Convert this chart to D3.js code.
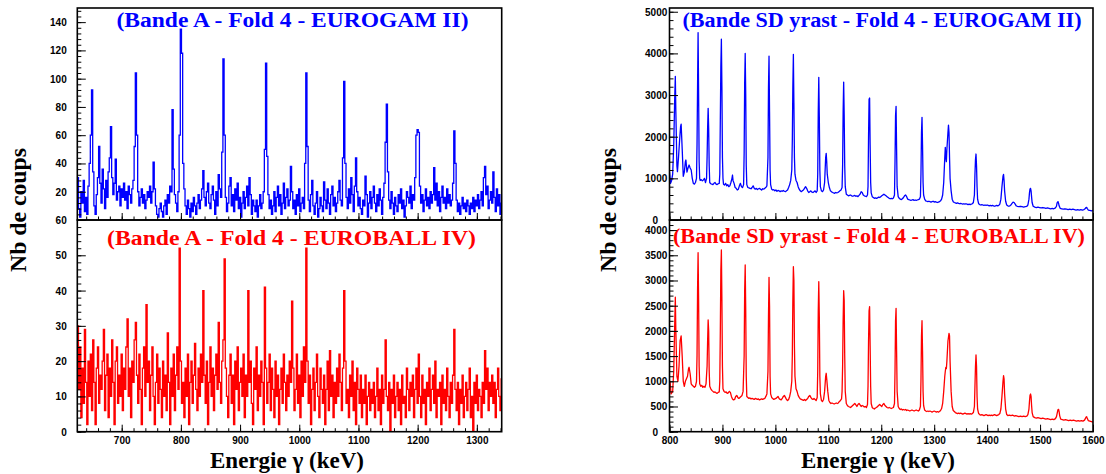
<!DOCTYPE html>
<html><head><meta charset="utf-8">
<script src="https://cdn.jsdelivr.net/npm/d3@7/dist/d3.min.js"></script>
<style>
html,body{margin:0;padding:0;background:#fff;}
svg{display:block;}
.tick text{font-family:"Liberation Sans",Arial,sans-serif;font-weight:bold;font-size:10px;fill:#000;}
</style></head>
<body><svg id="c" width="1106" height="474"></svg>
<script>
// ---------- DATA ----------
// Left panels: 2 keV bins starting at 625 keV
const binStart = 625, binWidth = 2, leftXMax = 1342;
const bandeA_EG2 = [
30,8,2,20,12,28,6,16,4,24,
40,60,92,34,10,4,18,30,52,26,
12,36,22,8,28,16,34,44,66,30,
18,26,43,14,20,24,10,22,16,26,
14,20,8,24,18,12,22,28,52,104,
60,20,10,16,22,12,18,8,14,20,
16,24,12,20,41,22,10,4,2,8,
12,6,2,10,14,4,18,12,24,20,
78,36,18,12,6,20,60,135,118,40,
22,10,4,14,8,2,12,6,16,10,
4,12,18,8,14,22,35,16,10,20,
26,12,8,18,24,14,4,20,10,32,
22,16,48,114,60,16,6,12,24,30,
10,18,6,22,14,26,8,16,2,12,
20,8,16,24,10,30,18,4,14,10,
6,14,2,10,18,8,12,20,50,111,
45,18,8,14,4,10,20,6,16,24,
10,18,4,12,26,8,16,22,10,14,
38,20,8,14,4,18,10,22,6,12,
16,8,40,104,52,14,6,18,28,10,
4,12,20,2,8,16,10,6,27,14,
8,22,12,4,18,24,10,16,6,12,
20,28,14,10,44,98,40,16,8,22,
12,30,18,6,24,44,20,10,16,8,
4,14,10,31,18,2,12,20,8,16,
24,12,6,18,10,22,14,4,16,26,
55,82,34,14,8,20,12,4,16,10,
6,18,12,22,8,14,2,10,20,16,
12,24,8,18,14,30,60,64,62,24,
12,18,6,14,22,10,16,8,20,12,
18,37,14,26,10,20,6,16,24,12,
16,8,22,12,18,10,14,26,63,40,
14,6,12,4,10,16,8,12,6,14,
10,4,12,8,16,6,14,10,18,8,
14,20,10,30,38,18,24,8,14,20,
12,34,16,6,22,10,18,4,12];
const bandeA_EB4 = [
30,12,24,4,18,8,29,14,2,20,
10,22,6,26,14,2,18,24,8,16,
12,20,29,6,16,22,4,18,10,26,
14,2,20,24,8,16,10,22,6,18,
12,24,32,10,18,4,20,14,26,31,
16,8,22,12,2,18,24,10,36,14,
20,6,16,24,10,2,14,22,8,18,
12,4,20,10,16,6,28,14,2,18,
10,22,6,16,24,12,52,20,8,14,
4,18,10,22,2,14,20,8,16,25,
12,6,18,10,22,14,40,16,8,20,
2,14,24,10,18,6,16,22,12,31,
14,8,20,26,49,18,10,4,16,22,
8,16,2,20,12,24,6,14,18,10,
22,4,16,10,40,14,20,8,2,18,
12,24,6,16,10,20,14,2,41,18,
8,14,22,6,18,12,4,20,10,16,
2,12,18,8,22,14,6,16,10,20,
14,37,18,6,12,22,8,16,4,20,
10,24,14,52,20,8,16,2,12,18,
6,14,22,10,4,18,12,8,16,2,
12,20,6,23,10,16,4,14,8,18,
10,22,14,6,18,40,20,8,12,4,
16,10,20,6,14,2,18,12,8,16,
4,12,8,16,2,10,14,6,12,8,
14,4,10,18,6,12,2,16,8,12,
26,10,6,14,0,12,8,16,4,10,
14,6,12,2,16,8,10,4,18,12,
6,14,10,16,4,12,18,8,22,10,
4,16,8,12,2,14,10,18,6,12,
16,8,20,4,12,10,14,2,16,8,
12,6,18,10,4,14,8,16,29,12,
6,14,2,12,8,16,4,10,14,6,
12,18,4,10,0,14,8,16,6,12,
10,4,14,8,23,12,18,6,14,10,
16,8,14,4,12,18,10,6,15];

// Right panels: [energy keV, counts]
const sdYrast_EG2 = [[800,1150],[802,880],[804,950],[806,1100],[808,1800],[810,3000],[811,3450],[812,2600],[814,1300],[815,1160],[817,1500],[819,1900],[821,2250],[822,2300],[824,1700],[826,1050],[828,1150],[830,1400],[831,1440],[833,1150],[835,1250],[837,1320],[839,1250],[841,1200],[843,1000],[845,880],[847,860],[849,900],[851,1000],[852,1800],[853,3200],[854,4500],[855,3000],[856,1400],[857,1000],[858,950],[860,970],[862,940],[864,960],[866,1000],[868,900],[870,1000],[871,1500],[872,2200],[873,2680],[874,2200],[875,1300],[876,900],[878,870],[880,860],[882,850],[884,880],[886,900],[888,860],[890,850],[892,870],[894,880],[895,1100],[896,2400],[897,3700],[898,4340],[899,3200],[900,1500],[901,1000],[902,860],[904,840],[906,880],[908,820],[910,850],[912,800],[914,820],[916,900],[918,1000],[919,1080],[920,950],[922,880],[924,780],[926,760],[928,720],[930,740],[932,820],[934,880],[936,800],[938,780],[940,850],[941,1600],[942,3300],[943,4000],[944,3000],[945,1300],[946,850],[948,780],[950,770],[952,760],[954,750],[956,780],[958,820],[960,760],[962,740],[964,760],[966,730],[968,750],[970,760],[972,740],[974,720],[976,750],[978,740],[980,760],[982,780],[984,820],[986,1500],[987,3200],[988,3935],[989,2600],[990,1200],[991,850],[993,740],[995,720],[997,730],[999,700],[1001,720],[1003,690],[1005,710],[1007,700],[1009,680],[1011,700],[1013,690],[1015,710],[1017,690],[1019,680],[1021,700],[1023,720],[1025,780],[1027,850],[1029,950],[1031,1200],[1032,1900],[1033,3200],[1034,3976],[1035,2800],[1036,1500],[1037,1100],[1039,950],[1041,900],[1043,800],[1045,740],[1047,700],[1049,680],[1051,700],[1053,720],[1055,760],[1057,800],[1059,760],[1061,700],[1063,660],[1065,680],[1067,700],[1069,670],[1071,660],[1073,680],[1075,700],[1077,660],[1079,700],[1080,1100],[1081,2600],[1082,3425],[1083,2500],[1084,1200],[1085,800],[1087,700],[1089,680],[1091,720],[1093,900],[1094,1200],[1095,1500],[1096,1600],[1097,1400],[1098,1100],[1100,900],[1102,780],[1104,700],[1106,680],[1108,660],[1110,650],[1112,640],[1114,660],[1116,650],[1118,660],[1120,680],[1122,700],[1124,720],[1126,780],[1127,1300],[1128,2600],[1129,3312],[1130,2500],[1131,1300],[1132,800],[1134,620],[1136,600],[1138,580],[1140,590],[1142,600],[1144,580],[1146,570],[1148,580],[1150,590],[1152,570],[1154,580],[1156,560],[1158,590],[1160,620],[1162,680],[1164,660],[1166,600],[1168,580],[1170,570],[1172,560],[1174,600],[1175,800],[1176,2000],[1177,2900],[1178,2928],[1179,1800],[1180,900],[1181,650],[1183,560],[1185,540],[1187,520],[1189,530],[1191,520],[1193,530],[1195,550],[1197,540],[1199,560],[1201,580],[1203,600],[1205,620],[1207,600],[1209,580],[1211,560],[1213,540],[1215,520],[1217,510],[1219,520],[1221,510],[1223,530],[1225,600],[1226,1400],[1227,2500],[1228,2728],[1229,1700],[1230,800],[1232,560],[1234,520],[1236,500],[1238,490],[1240,510],[1242,540],[1244,580],[1246,600],[1248,560],[1250,500],[1252,490],[1254,480],[1256,470],[1258,480],[1260,490],[1262,470],[1264,480],[1266,470],[1268,480],[1270,490],[1272,500],[1274,560],[1275,1100],[1276,2100],[1277,2464],[1278,1800],[1279,900],[1280,600],[1282,500],[1284,460],[1286,450],[1288,440],[1290,450],[1292,440],[1294,430],[1296,440],[1298,450],[1300,430],[1302,440],[1304,430],[1306,420],[1308,430],[1310,440],[1312,460],[1314,500],[1316,600],[1318,900],[1320,1500],[1321,1745],[1322,1500],[1323,1400],[1324,1700],[1326,2100],[1327,2280],[1328,2100],[1329,1500],[1330,1000],[1332,700],[1334,500],[1336,440],[1338,420],[1340,410],[1342,400],[1344,410],[1346,400],[1348,390],[1350,400],[1352,390],[1354,380],[1356,390],[1358,380],[1360,390],[1362,380],[1364,370],[1366,380],[1368,370],[1370,380],[1372,390],[1374,420],[1376,600],[1377,1100],[1378,1450],[1379,1584],[1380,1300],[1381,800],[1382,500],[1384,390],[1386,370],[1388,360],[1390,370],[1392,360],[1394,350],[1396,360],[1398,350],[1400,360],[1402,350],[1404,340],[1406,350],[1408,340],[1410,350],[1412,340],[1414,330],[1416,340],[1418,350],[1420,340],[1422,350],[1424,380],[1426,500],[1428,800],[1430,1050],[1431,1096],[1432,950],[1433,700],[1435,450],[1437,360],[1439,340],[1441,330],[1443,340],[1445,360],[1447,400],[1449,430],[1451,420],[1453,380],[1455,340],[1457,330],[1460,320],[1463,330],[1466,320],[1469,310],[1472,320],[1475,330],[1477,360],[1479,500],[1480,650],[1481,740],[1482,760],[1483,700],[1484,550],[1485,420],[1487,330],[1490,310],[1493,300],[1496,310],[1499,300],[1502,290],[1505,300],[1508,290],[1511,280],[1514,290],[1517,280],[1520,270],[1523,280],[1526,270],[1529,290],[1531,330],[1532,400],[1533,430],[1534,440],[1535,400],[1536,340],[1538,280],[1541,270],[1544,260],[1547,270],[1550,260],[1553,250],[1556,260],[1559,250],[1562,260],[1565,250],[1568,240],[1571,250],[1574,240],[1577,250],[1580,240],[1583,250],[1585,270],[1587,300],[1588,305],[1589,280],[1591,240],[1594,230],[1597,220],[1600,230]];

const sdYrast_EB4 = [[800,950],[801,1000],[803,750],[806,800],[808,1200],[810,2200],[811,2667],[812,2000],[814,1100],[816,1000],[818,1300],[820,1800],[822,1899],[824,1500],[826,1000],[828,900],[830,1000],[832,1050],[834,1100],[836,1250],[837,1278],[839,1150],[841,950],[843,920],[845,900],[847,880],[849,900],[851,1000],[852,1500],[853,2800],[854,3552],[855,2600],[856,1300],[857,950],[859,900],[861,920],[863,880],[865,900],[867,880],[869,950],[871,1300],[872,1800],[873,2216],[874,2000],[875,1200],[876,900],[878,850],[880,820],[882,800],[884,780],[886,790],[888,770],[890,760],[892,780],[894,790],[895,1000],[896,2000],[897,3200],[898,3605],[899,2600],[900,1300],[901,850],[903,800],[905,780],[907,790],[909,760],[911,770],[913,800],[915,780],[917,700],[919,650],[921,630],[923,640],[925,700],[927,720],[929,680],[931,660],[933,680],[935,700],[937,720],[939,800],[941,1500],[942,2800],[943,3307],[944,2400],[945,1100],[946,700],[948,680],[950,660],[952,670],[954,650],[956,660],[958,650],[960,640],[962,660],[964,650],[966,640],[968,650],[970,630],[972,640],[974,650],[976,640],[978,650],[980,660],[982,700],[984,750],[986,1200],[987,2300],[988,3063],[989,2500],[990,1100],[991,750],[993,680],[995,660],[997,640],[999,650],[1001,660],[1003,680],[1005,700],[1007,660],[1009,640],[1011,630],[1013,660],[1015,700],[1017,720],[1019,680],[1021,640],[1023,620],[1025,640],[1027,700],[1029,800],[1031,1000],[1032,1500],[1033,2600],[1034,3274],[1035,3000],[1036,1700],[1037,1100],[1039,850],[1041,800],[1043,720],[1045,680],[1047,650],[1049,640],[1051,630],[1053,620],[1055,640],[1057,620],[1059,640],[1061,660],[1063,700],[1065,720],[1067,680],[1069,650],[1071,640],[1073,660],[1075,640],[1077,620],[1079,680],[1080,1200],[1081,2400],[1082,2976],[1083,2300],[1084,1100],[1085,750],[1087,620],[1089,600],[1091,640],[1093,800],[1095,1100],[1096,1159],[1097,1050],[1099,800],[1101,620],[1103,580],[1105,560],[1107,570],[1109,560],[1111,550],[1113,560],[1115,570],[1117,560],[1119,570],[1121,600],[1123,620],[1125,650],[1126,800],[1127,1300],[1128,2200],[1129,2798],[1130,2600],[1131,1500],[1132,800],[1134,560],[1136,520],[1138,500],[1140,490],[1142,480],[1144,500],[1146,520],[1148,540],[1150,560],[1152,530],[1154,500],[1156,540],[1158,560],[1160,530],[1162,500],[1164,520],[1166,510],[1168,490],[1170,500],[1172,480],[1174,540],[1175,900],[1176,1800],[1177,2400],[1178,2480],[1179,1700],[1180,900],[1181,560],[1183,480],[1185,460],[1187,450],[1189,470],[1191,480],[1193,500],[1195,520],[1197,540],[1199,520],[1201,500],[1203,540],[1205,560],[1207,520],[1209,500],[1211,480],[1213,470],[1215,480],[1217,470],[1219,460],[1221,470],[1223,480],[1225,560],[1226,1200],[1227,2200],[1228,2448],[1229,1600],[1230,800],[1232,500],[1234,460],[1236,440],[1238,450],[1240,430],[1242,440],[1244,430],[1246,440],[1248,420],[1250,430],[1252,420],[1254,410],[1256,420],[1258,430],[1260,420],[1262,410],[1264,420],[1266,430],[1268,420],[1270,410],[1272,430],[1274,500],[1275,1000],[1276,1900],[1277,2203],[1278,1600],[1279,800],[1280,520],[1282,430],[1284,410],[1286,400],[1288,410],[1290,400],[1292,410],[1294,400],[1296,390],[1298,400],[1300,410],[1302,400],[1304,390],[1306,400],[1308,390],[1310,400],[1312,420],[1314,460],[1316,560],[1318,800],[1320,1100],[1321,1200],[1322,1278],[1323,1250],[1324,1400],[1326,1800],[1328,1952],[1329,1900],[1330,1400],[1332,800],[1334,500],[1336,420],[1338,400],[1340,380],[1342,370],[1344,360],[1346,370],[1348,360],[1350,370],[1352,360],[1354,350],[1356,360],[1358,370],[1360,360],[1362,350],[1364,360],[1366,350],[1368,360],[1370,350],[1372,360],[1374,380],[1376,500],[1377,900],[1378,1300],[1379,1522],[1380,1300],[1381,700],[1382,450],[1384,360],[1386,340],[1388,330],[1390,340],[1392,330],[1394,320],[1396,330],[1398,340],[1400,330],[1402,320],[1404,330],[1406,320],[1408,330],[1410,320],[1412,330],[1414,340],[1416,330],[1418,320],[1420,330],[1422,340],[1424,360],[1426,450],[1428,700],[1430,1000],[1431,1111],[1432,1050],[1433,750],[1435,450],[1437,340],[1439,320],[1442,330],[1445,320],[1448,330],[1451,310],[1454,320],[1457,310],[1460,300],[1463,310],[1466,300],[1469,310],[1472,300],[1475,310],[1477,340],[1479,450],[1480,600],[1481,720],[1482,748],[1483,700],[1484,520],[1485,380],[1487,300],[1490,280],[1493,270],[1496,280],[1499,270],[1502,260],[1505,270],[1508,260],[1511,250],[1514,260],[1517,250],[1520,240],[1523,250],[1526,240],[1529,260],[1531,300],[1533,400],[1534,440],[1535,444],[1536,400],[1537,320],[1539,250],[1542,240],[1545,230],[1548,240],[1551,230],[1554,220],[1557,230],[1560,220],[1563,230],[1566,220],[1569,210],[1572,220],[1575,210],[1578,220],[1581,210],[1584,230],[1586,270],[1587,290],[1588,298],[1589,270],[1591,220],[1594,210],[1597,200],[1600,190]];

const titles = ["(Bande A - Fold 4 - EUROGAM II)","(Bande A - Fold 4 - EUROBALL IV)",
                "(Bande SD yrast - Fold 4 - EUROGAM II)","(Bande SD yrast - Fold 4 - EUROBALL IV)"];
const xTitle = "Energie \u03b3 (keV)";
const yTitle = "Nb de coups";
const xTicksLeft = [700,800,900,1000,1100,1200,1300];
const xTicksRight = [800,900,1000,1100,1200,1300,1400,1500,1600];
const yTicksLT = [20,40,60,80,100,120,140];
const yTicksLB = [0,10,20,30,40,50,60];
const yTicksRT = [0,1000,2000,3000,4000,5000];
const yTicksRB = [0,500,1000,1500,2000,2500,3000,3500,4000];

// ---------- LAYOUT ----------
const svg = d3.select("#c");
const L = {x0:77.3, x1:501.7}, R = {x0:669.5, x1:1093};
const yTop = 8, yMid = 220, yBot = 431.7;
const BLUE = "#0000ff", RED = "#ff0000";

const xL = d3.scaleLinear().domain([binStart, leftXMax]).range([L.x0, L.x1]);
const xR = d3.scaleLinear().domain([800, 1600]).range([R.x0, R.x1]);
const yLT = d3.scaleLinear().domain([0,150]).range([yMid, yTop]);
const yLB = d3.scaleLinear().domain([0,60]).range([yBot, yMid]);
const yRT = d3.scaleLinear().domain([0,5090]).range([yMid, yTop]);
const yRB = d3.scaleLinear().domain([0,4200]).range([yBot, yMid]);

const defs = svg.append("defs");
function clip(id, x0, x1, y0, y1){
  defs.append("clipPath").attr("id", id).append("rect")
    .attr("x", x0).attr("y", y0).attr("width", x1-x0).attr("height", y1-y0);
}
clip("cLT", L.x0, L.x1, yTop, yMid); clip("cLB", L.x0, L.x1, yMid, yBot);
clip("cRT", R.x0, R.x1, yTop, yMid); clip("cRB", R.x0, R.x1, yMid, yBot);

function histo(values, x, y, color, clipId){
  const pts = values.map((v,i)=>[binStart + i*binWidth, v]);
  pts.push([leftXMax, values[values.length-1]]);
  const line = d3.line().x(d=>x(d[0])).y(d=>y(d[1])).curve(d3.curveStepAfter);
  svg.append("path").attr("d", line(pts)).attr("fill","none")
    .attr("stroke", color).attr("stroke-width", 1.3).attr("clip-path", `url(#${clipId})`);
}
function spec(pts, x, y, color, clipId){
  const line = d3.line().x(d=>x(d[0])).y(d=>y(d[1]));
  svg.append("path").attr("d", line(pts)).attr("fill","none")
    .attr("stroke", color).attr("stroke-width", 1.3).attr("stroke-linejoin","round")
    .attr("clip-path", `url(#${clipId})`);
}

histo(bandeA_EG2, xL, yLT, BLUE, "cLT");
histo(bandeA_EB4, xL, yLB, RED, "cLB");
spec(sdYrast_EG2, xR, yRT, BLUE, "cRT");
spec(sdYrast_EB4, xR, yRB, RED, "cRB");

// ---------- AXES ----------
function minorTicks(scale, step){
  const [a,b] = scale.domain();
  return d3.range(Math.ceil(a/step)*step, b+1e-9, step);
}
function yAxis(scale, x0, major, minorStep, labels, labelRight, zeroRight){
  svg.append("g").attr("transform",`translate(${x0},0)`)
    .call(d3.axisRight(scale).tickValues(minorTicks(scale, minorStep)).tickSize(4).tickFormat(""))
    .call(g=>g.select(".domain").remove());
  svg.append("g").attr("transform",`translate(${x0},0)`)
    .call(d3.axisRight(scale).tickValues(major).tickSize(8.5).tickFormat(""))
    .call(g=>g.select(".domain").remove());
  const g = svg.append("g").attr("transform",`translate(${labelRight},0)`)
    .call(d3.axisLeft(scale).tickValues(labels).tickSize(0).tickPadding(0).tickFormat(d3.format("d")))
    .call(g=>g.select(".domain").remove());
  g.selectAll(".tick text").attr("text-anchor","end").attr("dy","0.35em")
    .attr("x", d => (d===0 && zeroRight!==undefined) ? zeroRight - labelRight : 0);
}
function xAxis(scale, y, minorStep, labels){
  svg.append("g").attr("transform",`translate(0,${y})`)
    .call(d3.axisTop(scale).tickValues(minorTicks(scale, minorStep)).tickSize(3.5).tickFormat(""))
    .call(g=>g.select(".domain").remove());
  svg.append("g").attr("transform",`translate(0,${y})`)
    .call(d3.axisTop(scale).tickValues(minorTicks(scale, 100)).tickSize(7).tickFormat(""))
    .call(g=>g.select(".domain").remove());
  if(labels){
    const g = svg.append("g").attr("transform",`translate(0,${y+5})`)
      .call(d3.axisBottom(scale).tickValues(labels).tickSize(0).tickPadding(0).tickFormat(d3.format("d")))
      .call(g=>g.select(".domain").remove());
    g.selectAll(".tick text").attr("dy","0.71em");
  }
}

yAxis(yLT, L.x0, yTicksLT, 4, yTicksLT, 66.7);
yAxis(yLB, L.x0, yTicksLB, 2, yTicksLB, 66.7);
xAxis(xL, yMid, 20, null);
xAxis(xL, yBot, 20, xTicksLeft);
yAxis(yRT, R.x0, yTicksRT, 200, yTicksRT, 667.3, 658);
yAxis(yRB, R.x0, yTicksRB, 100, yTicksRB, 667.3, 658);
xAxis(xR, yMid, 20, null);
xAxis(xR, yBot, 20, xTicksRight);

svg.selectAll(".tick line").attr("stroke","#000").attr("stroke-width",1);

function frame(x0,x1,y0,y1){
  svg.append("rect").attr("x",x0).attr("y",y0).attr("width",x1-x0).attr("height",y1-y0)
    .attr("fill","none").attr("stroke","#000").attr("stroke-width",1.6);
}
frame(L.x0,L.x1,yTop,yMid); frame(L.x0,L.x1,yMid,yBot);
frame(R.x0,R.x1,yTop,yMid); frame(R.x0,R.x1,yMid,yBot);

// ---------- TEXT ----------
const serif = '"Liberation Serif","Times New Roman",serif';
function title(txt, cx, y, w, color){
  svg.append("text").attr("x",cx).attr("y",y).attr("text-anchor","middle")
    .attr("font-family",serif).attr("font-weight","bold").attr("font-size",20)
    .attr("textLength", w).attr("lengthAdjust","spacingAndGlyphs")
    .attr("fill",color).text(txt);
}
title(titles[0], 292.5, 27, 352, BLUE);
title(titles[1], 291.5, 245, 369, RED);
title(titles[2], 882, 27, 399, BLUE);
title(titles[3], 879, 243, 412, RED);

function xLabel(cx){
  svg.append("text").attr("x",cx).attr("y",468).attr("text-anchor","middle")
    .attr("font-family",serif).attr("font-weight","bold").attr("font-size",22.5)
    .attr("textLength",154).attr("lengthAdjust","spacingAndGlyphs").text(xTitle);
}
xLabel(287); xLabel(878);
function yLabel(cx){
  svg.append("text").attr("transform",`translate(${cx},210) rotate(-90)`).attr("text-anchor","middle")
    .attr("font-family",serif).attr("font-weight","bold").attr("font-size",22.5)
    .attr("textLength",124).attr("lengthAdjust","spacingAndGlyphs").text(yTitle);
}
yLabel(26); yLabel(616);
</script></body></html>
